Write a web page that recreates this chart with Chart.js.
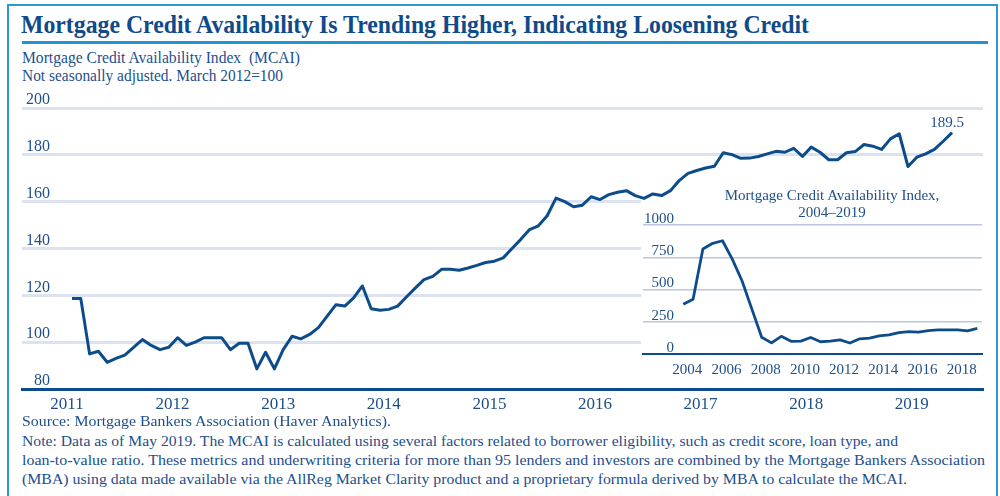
<!DOCTYPE html>
<html>
<head>
<meta charset="utf-8">
<script src="https://cdn.jsdelivr.net/npm/chart.js@4/dist/chart.umd.min.js"></script>
<style>
  body { margin: 0; width: 1000px; height: 496px; overflow: hidden; background: #fff; position: relative;
         font-family: "Liberation Serif", "Times New Roman", serif; color: #1d4f8c; }
  .abs { position: absolute; white-space: nowrap; transform-origin: 0 0; }
  #frame { position: absolute; left: 7px; top: 4px; width: 987px; height: 520px; border: 2px solid #2a9ad6; border-bottom: none; }
  #title { left: 21px; top: 12px; font-size: 25px; line-height: 25px; font-weight: bold; color: #0f4a8a; }
  #rule { position: absolute; left: 22px; top: 41px; width: 966px; height: 3px; background: #1f96d4; }
  .sub { font-size: 16px; line-height: 16px; }
  .note { font-size: 15px; line-height: 15px; }
  #main { position: absolute; left: 0; top: 90px; }
  #inset { position: absolute; left: 641px; top: 200px; background: #fff; }
  #insetTitle { position: absolute; left: 682px; top: 187px; width: 300px; text-align: center; font-size: 15px; line-height: 17px; }
</style>
</head>
<body>
<div id="frame"></div>
<div id="title" class="abs" data-w="788">Mortgage Credit Availability Is Trending Higher, Indicating Loosening Credit</div>
<div id="rule"></div>
<div class="abs sub" style="left:22px;top:50px" data-w="278">Mortgage Credit Availability Index&nbsp; (MCAI)</div>
<div class="abs sub" style="left:22px;top:68px" data-w="261">Not seasonally adjusted. March 2012=100</div>

<canvas id="main" width="1000" height="330"></canvas>
<canvas id="inset" width="344" height="182"></canvas>
<div id="insetTitle">Mortgage Credit Availability Index,<br>2004–2019</div>

<div class="abs note" style="left:22px;top:414px" data-w="369">Source: Mortgage Bankers Association (Haver Analytics).</div>
<div class="abs note" style="left:22px;top:434px" data-w="876">Note: Data as of May 2019. The MCAI is calculated using several factors related to borrower eligibility, such as credit score, loan type, and</div>
<div class="abs note" style="left:22px;top:453px" data-w="963">loan-to-value ratio. These metrics and underwriting criteria for more than 95 lenders and investors are combined by the Mortgage Bankers Association</div>
<div class="abs note" style="left:22px;top:472px" data-w="885">(MBA) using data made available via the AllReg Market Clarity product and a proprietary formula derived by MBA to calculate the MCAI.</div>

<script>
// monthly MCAI, Jan 2011 - May 2019
var mcai = [
	118.6, 118.6, 95.0, 96.1, 91.4, 93.1, 94.5, 97.8, 101.1, 98.6, 96.8, 97.8,
	101.9, 98.6, 100.0, 101.9, 101.9, 101.9, 96.8, 99.5, 99.5, 88.6, 95.7, 88.6,
	96.8, 102.5, 101.4, 103.3, 106.2, 111.1, 116.0, 115.4, 118.9, 124.0, 114.3, 113.6,
	114.0, 115.4, 119.3, 123.1, 126.7, 128.1, 131.1, 131.1, 130.7, 131.7, 132.8, 134.0,
	134.6, 136.0, 140.0, 143.9, 148.1, 149.7, 154.0, 161.5, 160.0, 157.8, 158.5, 162.1,
	160.9, 163.0, 164.0, 164.7, 162.6, 161.4, 163.3, 162.6, 164.7, 169.0, 172.1, 173.3,
	174.4, 175.1, 180.9, 180.1, 178.5, 178.6, 179.3, 180.4, 181.5, 181.1, 182.8, 179.3,
	183.3, 181.1, 177.9, 177.9, 180.9, 181.4, 184.4, 183.7, 182.3, 186.8, 189.0, 175.0,
	179.0, 180.4, 182.3, 185.8, 189.5
];
var yearLabels = ['2011', '2012', '2013', '2014', '2015', '2016', '2017', '2018', '2019'];

// half-yearly MCAI, 2004 - 2018
var insetValues = [
	385, 424, 814, 858, 878, 736, 566, 348, 130, 86, 137, 98, 100, 128, 95, 100,
	110, 85, 118, 123, 140, 148, 165, 174, 170, 182, 187, 187, 187, 180, 198
];
var insetYearLabels = ['2004', '2006', '2008', '2010', '2012', '2014', '2016', '2018'];

var serif = '"Liberation Serif", "Times New Roman", serif';
var lineColor = '#0d4c8b';
var textColor = '#1d4f8c';

document.querySelectorAll('[data-w]').forEach(function(el) {
	var w = el.getBoundingClientRect().width;
	el.style.transform = 'scaleX(' + (+el.dataset.w / w) + ')';
});

var endLabel = {
	id: 'endLabel',
	afterDatasetsDraw: function(chart) {
		var meta = chart.getDatasetMeta(0);
		var pt = meta.data[meta.data.length - 1];
		var ctx = chart.ctx;
		ctx.save();
		ctx.font = '15px ' + serif;
		ctx.fillStyle = textColor;
		ctx.textAlign = 'center';
		ctx.textBaseline = 'middle';
		ctx.fillText(mcai[mcai.length - 1].toFixed(1), pt.x - 5, pt.y - 10);
		ctx.restore();
	}
};

new Chart(document.getElementById('main'), {
	type: 'line',
	data: {
		datasets: [{
			data: mcai.map(function(v, i) { return { x: i, y: v }; }),
			borderColor: lineColor,
			borderWidth: 3,
			pointRadius: 0,
			borderJoinStyle: 'round',
			tension: 0
		}]
	},
	options: {
		responsive: false,
		animation: false,
		devicePixelRatio: 1,
		layout: { padding: { left: 22, right: 17, top: 18, bottom: 0 } },
		plugins: { legend: { display: false }, tooltip: { enabled: false } },
		scales: {
			x: {
				type: 'linear',
				min: -5.68,
				max: 103.52,
				afterFit: function(s) { s.height = 31; },
				afterBuildTicks: function(s) {
					s.ticks = yearLabels.map(function(_, j) { return { value: j * 12 }; });
				},
				grid: { display: false, drawTicks: false },
				border: { display: true, color: lineColor, width: 3 },
				ticks: {
					padding: 5,
					labelOffset: -5,
					maxRotation: 0,
					autoSkip: false,
					color: textColor,
					font: { family: serif, size: 17 },
					callback: function(v) { return yearLabels[v / 12]; }
				}
			},
			y: {
				min: 80,
				max: 200,
				afterFit: function(s) { s.width = 0; },
				border: { display: false },
				grid: {
					drawTicks: false,
					lineWidth: 3,
					color: function(c) { return c.tick && c.tick.value === 80 ? 'rgba(0,0,0,0)' : '#dde2f0'; }
				},
				ticks: {
					stepSize: 20,
					mirror: true,
					padding: 4,
					crossAlign: 'far',
					labelOffset: -8,
					color: textColor,
					font: { family: serif, size: 16 }
				}
			}
		}
	},
	plugins: [endLabel]
});

new Chart(document.getElementById('inset'), {
	type: 'line',
	data: {
		datasets: [{
			data: insetValues.map(function(v, k) { return { x: k, y: v }; }),
			borderColor: lineColor,
			borderWidth: 2.8,
			pointRadius: 0,
			borderJoinStyle: 'round',
			tension: 0
		}]
	},
	options: {
		responsive: false,
		animation: false,
		devicePixelRatio: 1,
		layout: { padding: { left: 2, right: 3, top: 25, bottom: 0 } },
		plugins: { legend: { display: false }, tooltip: { enabled: false } },
		scales: {
			x: {
				type: 'linear',
				min: -4.11,
				max: 30.48,
				afterFit: function(s) { s.height = 28; },
				afterBuildTicks: function(s) {
					s.ticks = insetYearLabels.map(function(_, j) { return { value: j * 4 }; });
				},
				grid: { display: false, drawTicks: false },
				border: { display: true, color: lineColor, width: 2 },
				ticks: {
					padding: 7,
					labelOffset: 4,
					maxRotation: 0,
					autoSkip: false,
					color: textColor,
					font: { family: serif, size: 15 },
					callback: function(v) { return insetYearLabels[v / 4]; }
				}
			},
			y: {
				min: 0,
				max: 1000,
				afterFit: function(s) { s.width = 0; },
				border: { display: false },
				grid: {
					drawTicks: false,
					lineWidth: 1.5,
					color: function(c) { return c.tick && c.tick.value === 0 ? 'rgba(0,0,0,0)' : '#bcc6e2'; }
				},
				ticks: {
					stepSize: 250,
					mirror: true,
					padding: 1,
					crossAlign: 'far',
					labelOffset: -6,
					color: textColor,
					font: { family: serif, size: 15 },
					callback: function(v) { return String(v); }
				}
			}
		}
	}
});
</script>
</body>
</html>
